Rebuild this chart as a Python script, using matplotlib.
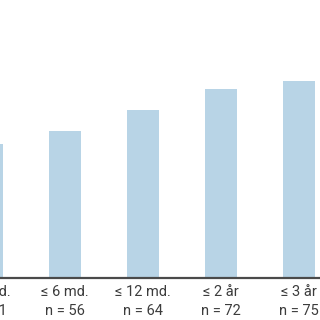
import matplotlib
matplotlib.use("Agg")
import matplotlib.pyplot as plt

periods = ["≤ 3 md.", "≤ 6 md.", "≤ 12 md.", "≤ 2 år", "≤ 3 år"]
counts = [51, 56, 64, 72, 75]

labels = [f"{p}\nn = {c}" for p, c in zip(periods, counts)]
x = list(range(len(periods)))

fig = plt.figure(figsize=(3.2, 3.2), dpi=100)
ax = fig.add_axes([0, 0.131, 1, 0.869])
ax.bar(x, counts, width=0.41, color="#b8d4e6")

ax.set_xticks([])
ax.set_yticks([])
ax.set_xlim(0.17, 4.27)
ax.set_ylim(0, 105.7)

# category labels as text so the first one can run off the left edge like in the original
for xi, lab in zip(x, labels):
    ax.annotate(lab, xy=(xi, 0), xycoords=ax.get_xaxis_transform(),
                xytext=(0, -5), textcoords="offset points",
                ha="center", va="top", multialignment="center",
                fontsize=10.5, color="#3c3c3c", linespacing=1.45,
                family=["Roboto", "DejaVu Sans"], annotation_clip=False)

for s in ["top", "left", "right"]:
    ax.spines[s].set_visible(False)
ax.spines["bottom"].set_color("#4a4a4a")
ax.spines["bottom"].set_linewidth(1.6)

fig.savefig("out.png", dpi=100)
